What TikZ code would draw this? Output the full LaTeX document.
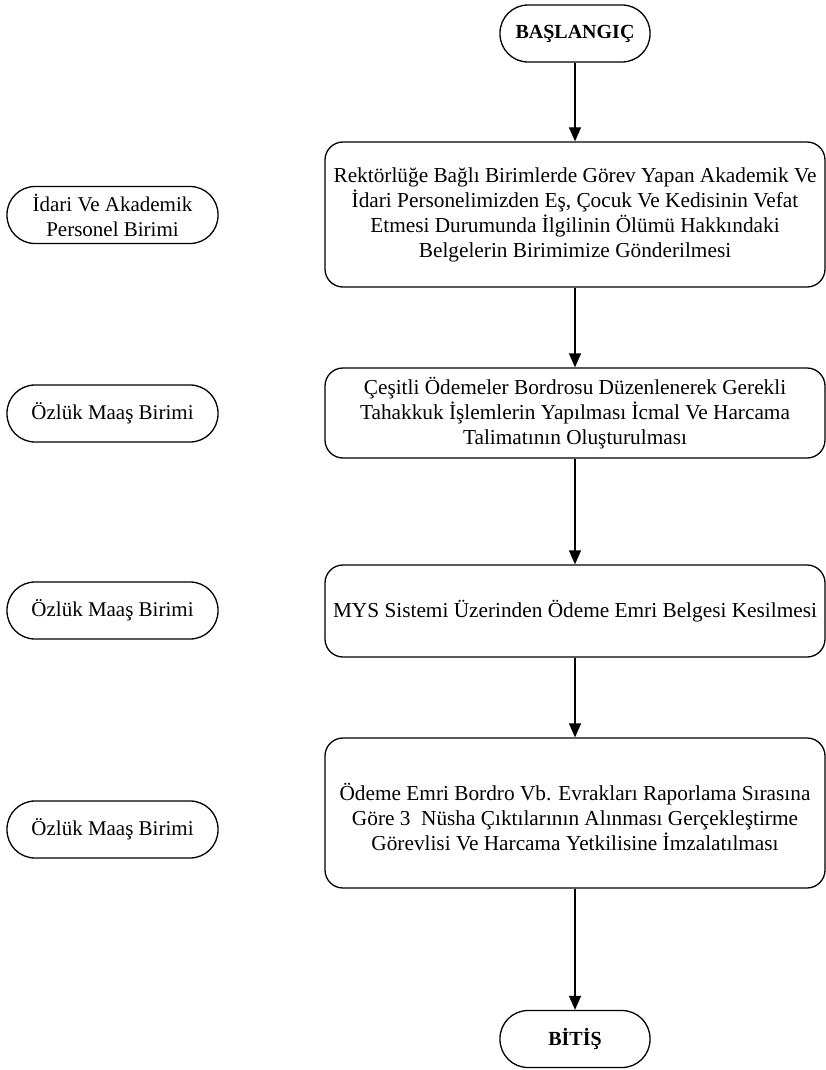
\documentclass[tikz,border=0pt]{standalone}
\usepackage{fontspec}
\setmainfont{Liberation Serif}
\usetikzlibrary{arrows.meta}
\begin{document}
\begin{tikzpicture}[x=1pt,y=-1pt,
  proc/.style={draw, line width=1.3pt, rounded corners=18pt, minimum width=500pt, inner sep=0pt, align=center, font=\fontsize{21.3}{25}\selectfont},
  term/.style={draw, line width=1.3pt, rounded corners=28pt, minimum width=150pt, minimum height=57pt, inner sep=0pt, font=\fontsize{20}{24}\selectfont\bfseries},
  unit/.style={draw, line width=1.3pt, rounded corners=28pt, minimum width=211pt, minimum height=57pt, inner sep=0pt, align=center, font=\fontsize{21}{25}\selectfont},
  arr/.style={-{Triangle[length=14pt,width=12pt]}, line width=1.3pt}]
\useasboundingbox (0,0) rectangle (825,1070);
\node[term] (start) at (575,33.5) {BAŞLANGIÇ};
\node[proc, minimum height=145pt] (b1) at (575,214.5) {Rektörlüğe Bağlı Birimlerde Görev Yapan Akademik Ve\\İdari Personelimizden Eş, Çocuk Ve Kedisinin Vefat\\Etmesi Durumunda İlgilinin Ölümü Hakkındaki\\Belgelerin Birimimize Gönderilmesi};
\node[proc, minimum height=90pt] (b2) at (575,413) {Çeşitli Ödemeler Bordrosu Düzenlenerek Gerekli\\Tahakkuk İşlemlerin Yapılması İcmal Ve Harcama\\Talimatının Oluşturulması};
\node[proc, minimum height=92pt] (b3) at (575,611) {MYS Sistemi Üzerinden Ödeme Emri Belgesi Kesilmesi};
\node[proc, minimum height=150pt] (b4) at (575,813) {\mbox{}\\Ödeme Emri Bordro Vb. Evrakları Raporlama Sırasına\\Göre 3\ \ Nüsha Çıktılarının Alınması Gerçekleştirme\\Görevlisi Ve Harcama Yetkilisine İmzalatılması};
\node[term] (end) at (575,1039) {BİTİŞ};
\node[unit] (u1) at (112.5,215) {İdari Ve Akademik\\Personel Birimi};
\node[unit] (u2) at (112.5,413.5) {Özlük Maaş Birimi};
\node[unit] (u3) at (112.5,610.5) {Özlük Maaş Birimi};
\node[unit] (u4) at (112.5,829.5) {Özlük Maaş Birimi};
\draw[arr] (start) -- (b1);
\draw[arr] (b1) -- (b2);
\draw[arr] (b2) -- (b3);
\draw[arr] (b3) -- (b4);
\draw[arr] (b4) -- (end);
\end{tikzpicture}
\end{document}
